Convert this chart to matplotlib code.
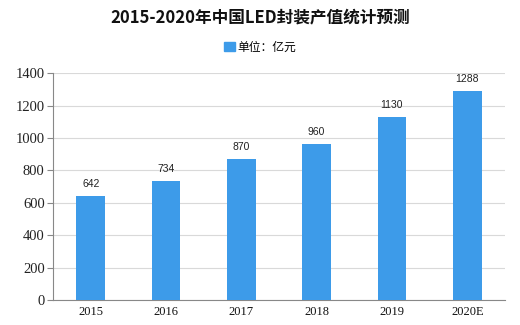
import matplotlib
matplotlib.use("Agg")
import matplotlib.pyplot as plt
from matplotlib.patches import Patch

categories = ["2015", "2016", "2017", "2018", "2019", "2020E"]
values = [642, 734, 870, 960, 1130, 1288]
yticks = [0, 200, 400, 600, 800, 1000, 1200, 1400]

plt.rcParams['font.family'] = ['Noto Sans CJK SC', 'DejaVu Sans']

fig = plt.figure(figsize=(5.2, 3.25), dpi=100)
ax = fig.add_axes([0.102, 0.077, 0.869, 0.698])
color = '#3d9be9'
x = range(len(categories))
bars = ax.bar(x, values, width=0.38, color=color, zorder=3)
for xi, v in zip(x, values):
    ax.text(xi, v + 45, str(v), ha='center', va='bottom', fontsize=7.5,
            family=['Liberation Sans', 'DejaVu Sans'], color='#222222')
ax.set_xlim(-0.5, len(categories) - 0.5)
ax.set_ylim(0, 1400)
ax.set_yticks(yticks)
ax.set_yticklabels([str(t) for t in yticks], family=['Liberation Serif'], fontsize=10.5, color='#222222')
ax.set_xticks(list(x))
ax.set_xticklabels(categories, family=['Liberation Serif'], fontsize=9, color='#111111')
ax.grid(axis='y', color='#d9d9d9', linewidth=0.8, zorder=0)
for s in ['top', 'right']:
    ax.spines[s].set_visible(False)
for s in ['left', 'bottom']:
    ax.spines[s].set_color('#888888')
ax.tick_params(axis='y', length=4, color='#888888', pad=2)
ax.tick_params(axis='x', length=0, pad=4)

fig.text(0.5, 0.945, "2015-2020年中国LED封装产值统计预测", ha='center', va='center',
         fontsize=12, fontweight='bold', color='#111111')
fig.legend(handles=[Patch(color=color)], labels=["单位：亿元"], loc='center',
           bbox_to_anchor=(0.5, 0.855), frameon=False, fontsize=8.5,
           handlelength=0.9, handleheight=0.9, handletextpad=0.2)
fig.savefig("out.png", dpi=100)
